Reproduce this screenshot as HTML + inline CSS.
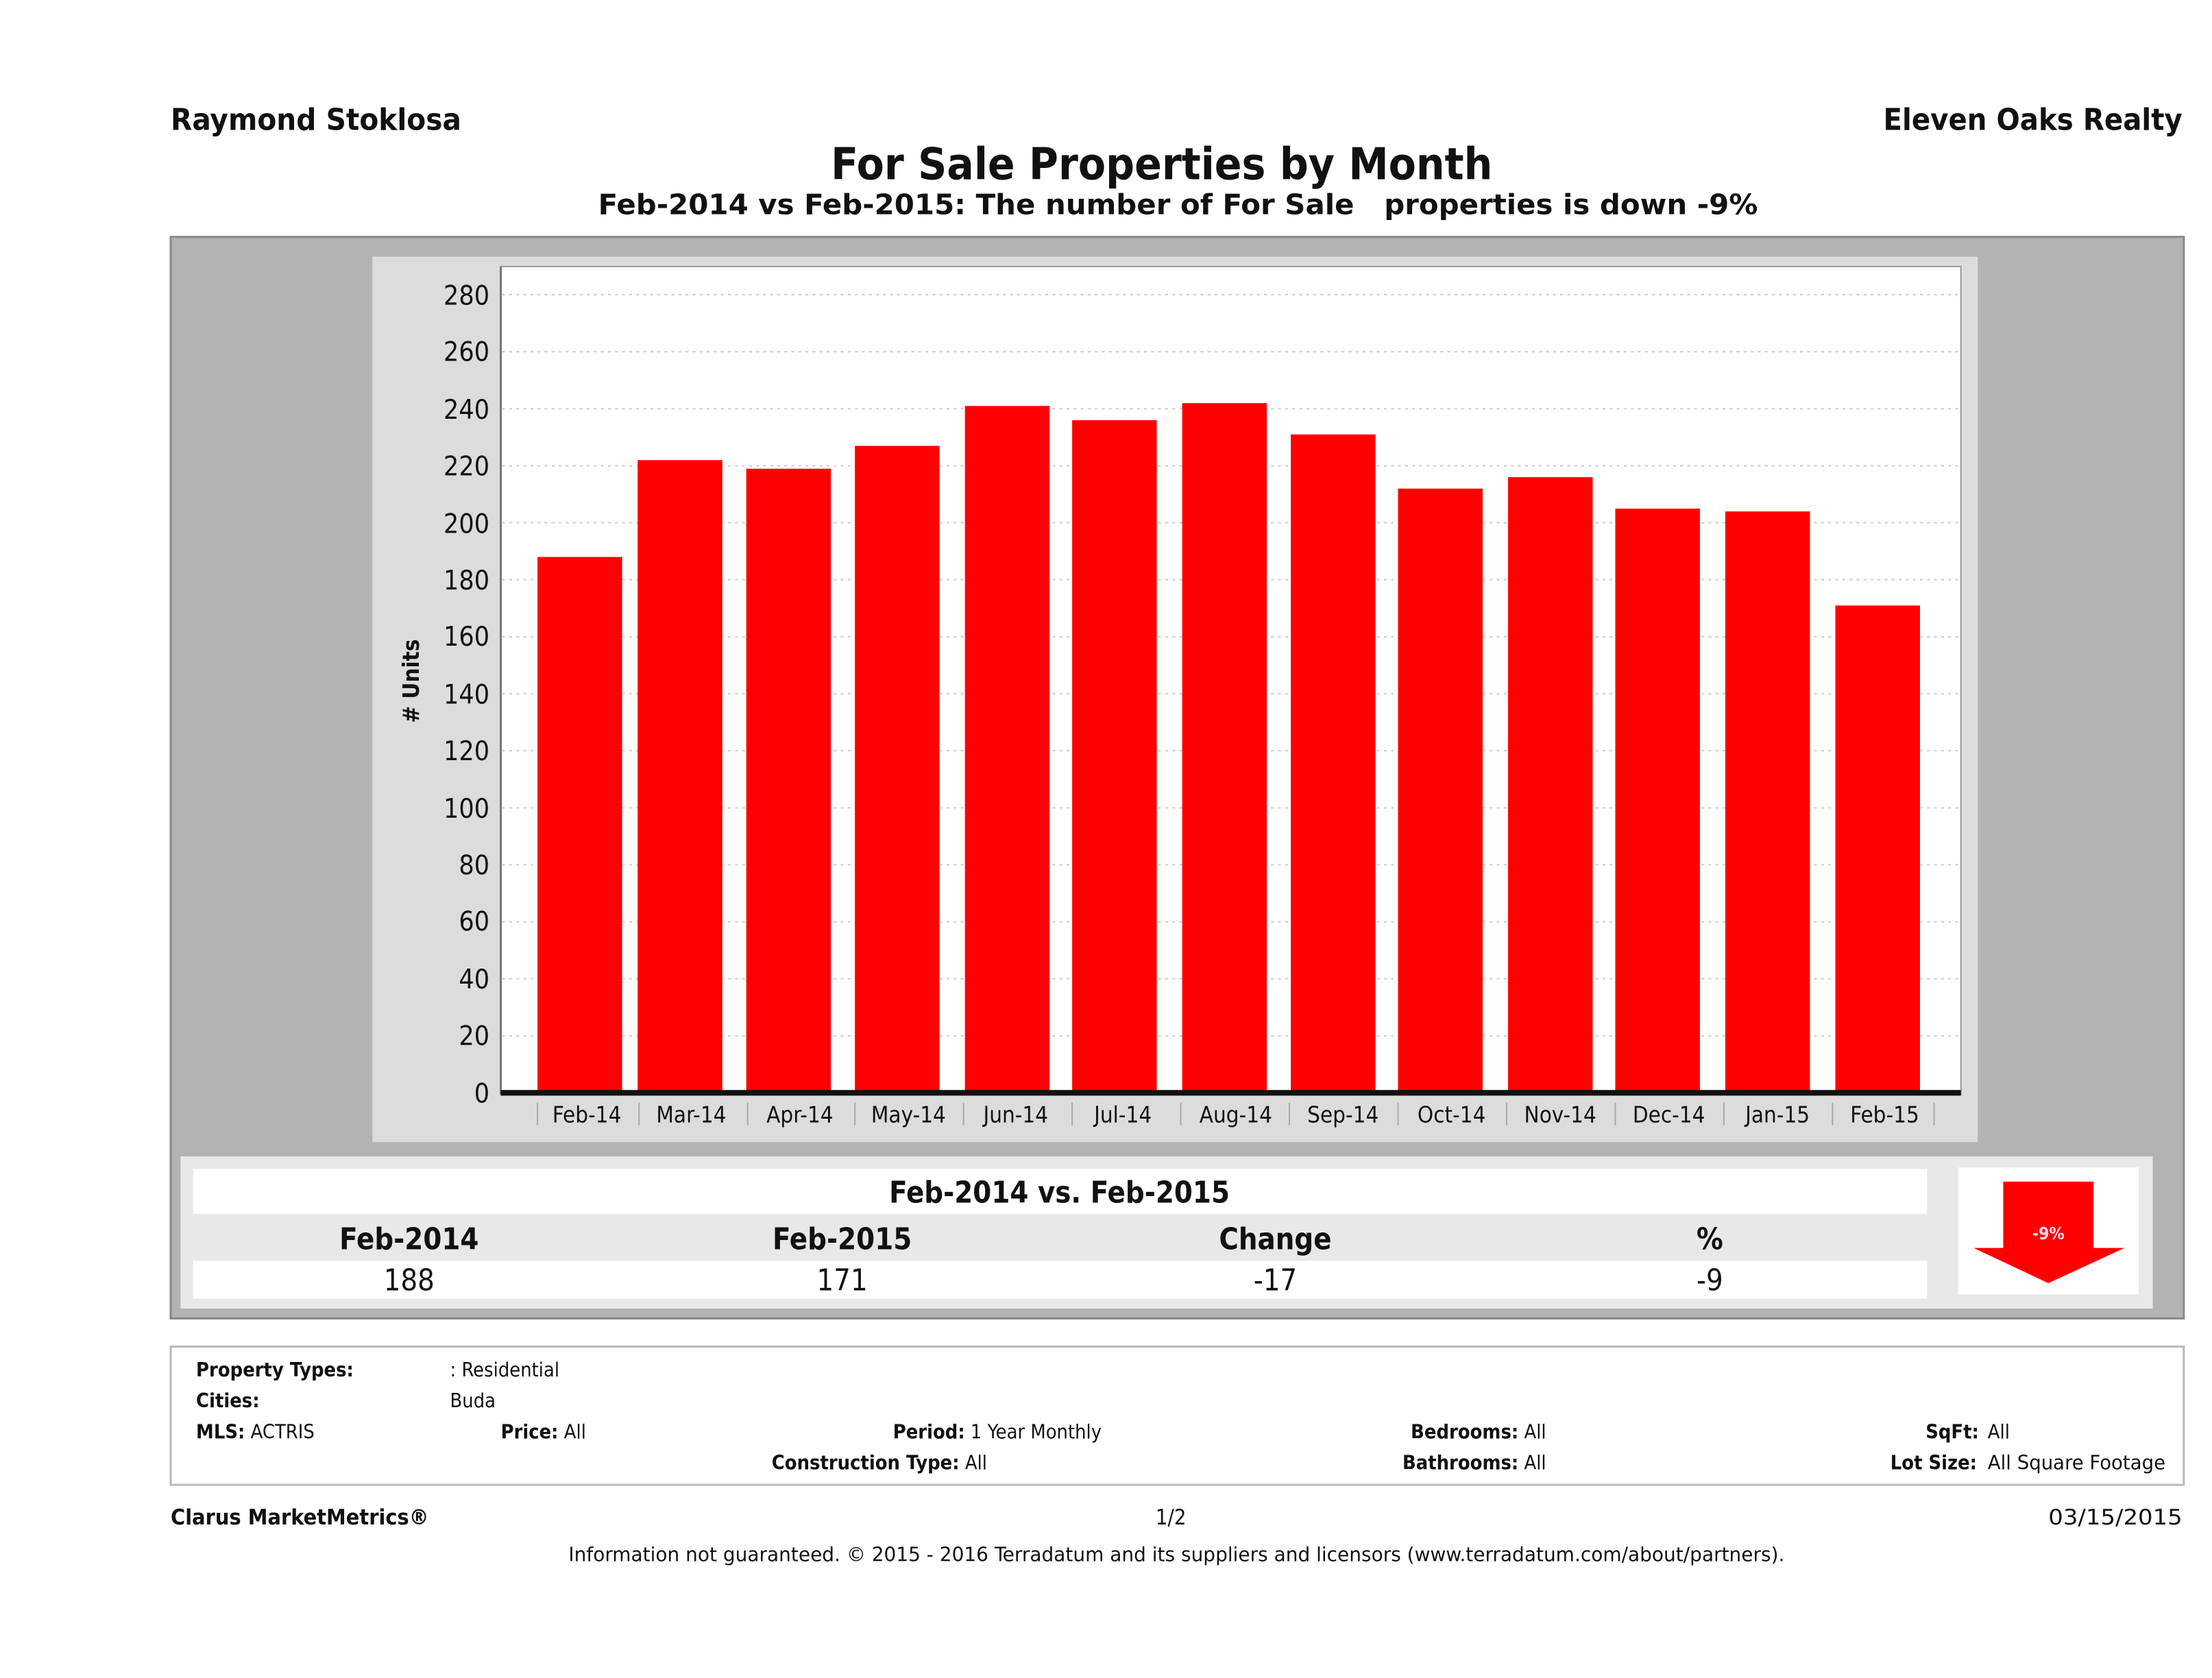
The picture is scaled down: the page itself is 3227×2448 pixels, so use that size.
<!DOCTYPE html>
<html><head><meta charset="utf-8"><style>
html,body{margin:0;padding:0;background:#fff;}
svg{display:block;}
text{font-family:"DejaVu Sans Condensed","DejaVu Sans","Liberation Sans",sans-serif;fill:#111;}
</style></head><body>
<svg width="3227" height="2448" viewBox="0 0 1568 1190" preserveAspectRatio="none" xmlns="http://www.w3.org/2000/svg">
<rect x="0" y="0" width="1568" height="1190" fill="#fff"/>
<text x="121" y="92" font-size="21" font-weight="bold" textLength="206" lengthAdjust="spacingAndGlyphs">Raymond Stoklosa</text>
<text x="1335" y="92" font-size="21" font-weight="bold" textLength="212" lengthAdjust="spacingAndGlyphs">Eleven Oaks Realty</text>
<text x="589" y="127" font-size="31" font-weight="bold" textLength="469" lengthAdjust="spacingAndGlyphs">For Sale Properties by Month</text>
<text x="424" y="152" font-size="20" font-weight="bold" textLength="822" lengthAdjust="spacingAndGlyphs" xml:space="preserve">Feb-2014 vs Feb-2015: The number of For Sale   properties is down -9%</text>

<rect x="121" y="168" width="1427" height="767" fill="#b3b3b3" stroke="#8a8a8a" stroke-width="1.5"/>
<rect x="264" y="182" width="1138" height="628" fill="#dcdcdc"/>
<rect x="355" y="189" width="1035" height="587" fill="#fff" stroke="#999" stroke-width="1"/>
<line x1="355" y1="189" x2="355" y2="776" stroke="#777" stroke-width="1.5"/>
<g stroke="#ccc" stroke-width="1" stroke-dasharray="2,3">
<line x1="356" y1="209" x2="1390" y2="209"/><line x1="356" y1="249.4" x2="1390" y2="249.4"/>
<line x1="356" y1="289.9" x2="1390" y2="289.9"/><line x1="356" y1="330.3" x2="1390" y2="330.3"/>
<line x1="356" y1="370.7" x2="1390" y2="370.7"/><line x1="356" y1="411.1" x2="1390" y2="411.1"/>
<line x1="356" y1="451.6" x2="1390" y2="451.6"/><line x1="356" y1="492" x2="1390" y2="492"/>
<line x1="356" y1="532.4" x2="1390" y2="532.4"/><line x1="356" y1="572.9" x2="1390" y2="572.9"/>
<line x1="356" y1="613.3" x2="1390" y2="613.3"/><line x1="356" y1="653.7" x2="1390" y2="653.7"/>
<line x1="356" y1="694.1" x2="1390" y2="694.1"/><line x1="356" y1="734.6" x2="1390" y2="734.6"/>
</g>
<g font-size="19" text-anchor="end">
<text x="347" y="216">280</text><text x="347" y="256">260</text><text x="347" y="297">240</text>
<text x="347" y="337">220</text><text x="347" y="378">200</text><text x="347" y="418">180</text>
<text x="347" y="458">160</text><text x="347" y="499">140</text><text x="347" y="539">120</text>
<text x="347" y="580">100</text><text x="347" y="620">80</text><text x="347" y="660">60</text>
<text x="347" y="701">40</text><text x="347" y="741">20</text><text x="347" y="782">0</text>
</g>
<text x="0" y="0" font-size="16" font-weight="bold" text-anchor="middle" transform="translate(297,483) rotate(-90)"># Units</text>
<g fill="#ff0000">
<rect x="381" y="395" width="60" height="380"/>
<rect x="452" y="326.3" width="60" height="448.7"/>
<rect x="529" y="332.4" width="60" height="442.6"/>
<rect x="606" y="316.2" width="60" height="458.8"/>
<rect x="684" y="287.9" width="60" height="487.1"/>
<rect x="760" y="298" width="60" height="477"/>
<rect x="838" y="285.9" width="60" height="489.1"/>
<rect x="915" y="308.1" width="60" height="466.9"/>
<rect x="991" y="346.5" width="60" height="428.5"/>
<rect x="1069" y="338.4" width="60" height="436.6"/>
<rect x="1145" y="360.7" width="60" height="414.3"/>
<rect x="1223" y="362.7" width="60" height="412.3"/>
<rect x="1301" y="429.4" width="60" height="345.6"/>
</g>
<rect x="355" y="773" width="1035" height="4" fill="#111"/>
<g stroke="#aaa" stroke-width="1">
<line x1="381" y1="782" x2="381" y2="798"/><line x1="453" y1="782" x2="453" y2="798"/>
<line x1="530" y1="782" x2="530" y2="798"/><line x1="606" y1="782" x2="606" y2="798"/>
<line x1="683" y1="782" x2="683" y2="798"/><line x1="760" y1="782" x2="760" y2="798"/>
<line x1="837" y1="782" x2="837" y2="798"/><line x1="914" y1="782" x2="914" y2="798"/>
<line x1="991" y1="782" x2="991" y2="798"/><line x1="1068" y1="782" x2="1068" y2="798"/>
<line x1="1145" y1="782" x2="1145" y2="798"/><line x1="1222" y1="782" x2="1222" y2="798"/>
<line x1="1299" y1="782" x2="1299" y2="798"/><line x1="1371" y1="782" x2="1371" y2="798"/>
</g>
<g font-size="16" text-anchor="middle">
<text x="416" y="796">Feb-14</text><text x="490" y="796">Mar-14</text><text x="567" y="796">Apr-14</text>
<text x="644" y="796">May-14</text><text x="720" y="796">Jun-14</text><text x="796" y="796">Jul-14</text>
<text x="876" y="796">Aug-14</text><text x="952" y="796">Sep-14</text><text x="1029" y="796">Oct-14</text>
<text x="1106" y="796">Nov-14</text><text x="1183" y="796">Dec-14</text><text x="1260" y="796">Jan-15</text>
<text x="1336" y="796">Feb-15</text>
</g>

<rect x="128" y="820" width="1398" height="108" fill="#e8e8e8"/>
<rect x="137" y="829" width="1229" height="32" fill="#fff"/>
<rect x="137" y="894" width="1229" height="27" fill="#fff"/>
<text x="751" y="853" font-size="21" font-weight="bold" text-anchor="middle">Feb-2014 vs. Feb-2015</text>
<g font-size="21" font-weight="bold" text-anchor="middle">
<text x="290" y="886">Feb-2014</text><text x="597" y="886">Feb-2015</text>
<text x="904" y="886">Change</text><text x="1212" y="886">%</text>
</g>
<g font-size="21" text-anchor="middle">
<text x="290" y="915">188</text><text x="597" y="915">171</text>
<text x="904" y="915">-17</text><text x="1212" y="915">-9</text>
</g>
<rect x="1388" y="828" width="128" height="90" fill="#fff"/>
<polygon points="1420,838 1484,838 1484,885 1506,885 1452,910 1399,885 1420,885" fill="#ff0000"/>
<text x="1452" y="879" font-size="12" font-weight="bold" text-anchor="middle" style="fill:#fde">-9%</text>

<rect x="121" y="955" width="1427" height="98" fill="#fff" stroke="#bbb" stroke-width="1.5"/>
<g font-size="14">
<text x="139" y="976" font-weight="bold">Property Types:</text>
<text x="319" y="976">: Residential</text>
<text x="139" y="998" font-weight="bold">Cities:</text>
<text x="319" y="998">Buda</text>
<text x="139" y="1020"><tspan font-weight="bold">MLS:</tspan>  ACTRIS</text>
<text x="355" y="1020"><tspan font-weight="bold">Price:</tspan> All</text>
<text x="633" y="1020"><tspan font-weight="bold">Period:</tspan> 1 Year Monthly</text>
<text x="547" y="1042"><tspan font-weight="bold">Construction Type:</tspan> All</text>
<text x="1096" y="1020" text-anchor="end"><tspan font-weight="bold">Bedrooms:</tspan> All</text>
<text x="1096" y="1042" text-anchor="end"><tspan font-weight="bold">Bathrooms:</tspan> All</text>
<text x="1365" y="1020"><tspan font-weight="bold">SqFt:</tspan></text>
<text x="1409" y="1020">All</text>
<text x="1340" y="1042"><tspan font-weight="bold">Lot Size:</tspan></text>
<text x="1409" y="1042" textLength="126" lengthAdjust="spacingAndGlyphs">All Square Footage</text>
</g>
<text x="121" y="1081" font-size="15" font-weight="bold" textLength="183" lengthAdjust="spacingAndGlyphs">Clarus MarketMetrics®</text>
<text x="830" y="1081" font-size="15" text-anchor="middle">1/2</text>
<text x="1452" y="1081" font-size="15" textLength="95" lengthAdjust="spacingAndGlyphs">03/15/2015</text>
<text x="403" y="1107" font-size="14" textLength="862" lengthAdjust="spacingAndGlyphs">Information not guaranteed. © 2015 - 2016 Terradatum and its suppliers and licensors (www.terradatum.com/about/partners).</text>
</svg>
</body></html>
